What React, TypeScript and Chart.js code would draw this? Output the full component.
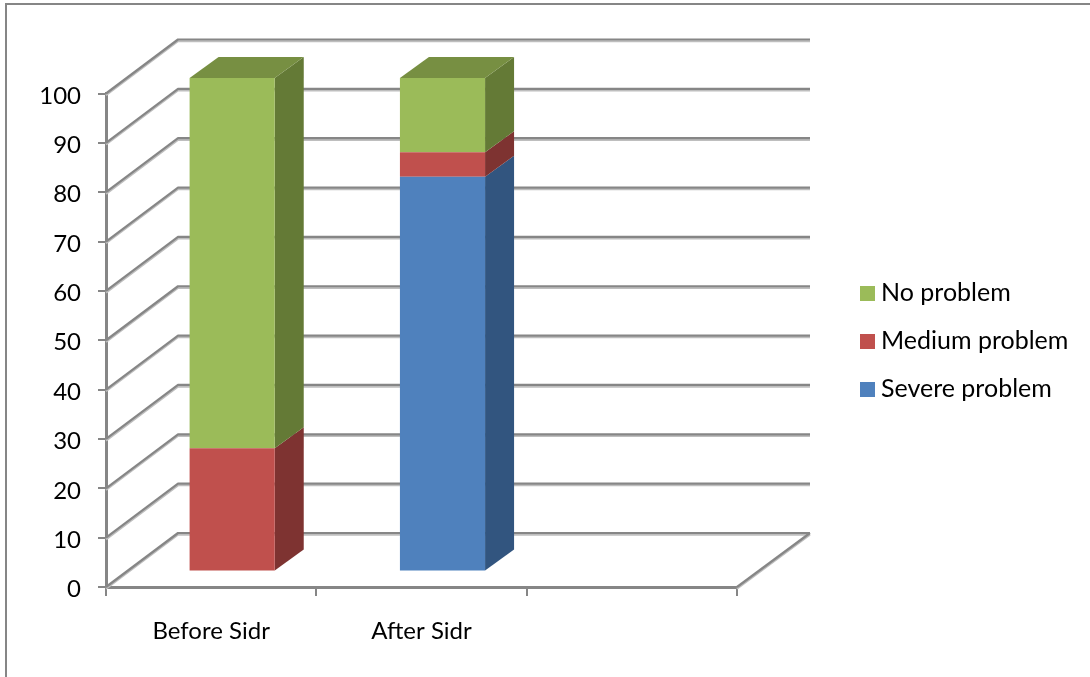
import React, { useEffect, useRef } from "react";
import { Chart, registerables } from "chart.js";

Chart.register(...registerables);

const categories = ["Before Sidr", "After Sidr", ""];
const severeProblem = [0, 80, null];
const mediumProblem = [25, 5, null];
const noProblem = [75, 15, null];

const FONT = "Lato";
const AXIS = "#868686";
const AXIS_LIGHT = "#BEBEBE";
const CHART_HEIGHT = 677;

// Projection of the box: wall offset, and where the bars sit on the floor.
const WALL = { dx: 72, dy: -54 };
const BAR_SHIFT = { dx: 21, dy: -15.4 };
const BAR_DEPTH = { dx: 29, dy: -21 };
const PLOT = { left: 106, right: 737, top: 93.5, bottom: 587 };

// Legend column: first row's swatch top, row pitch, swatch size, text start.
const LEGEND = { x: 860, y: 286, pitch: 48, box: 15, textX: 881 };

// Lato sits a little high on its middle baseline; value labels are nudged down.
const VALUE_LABEL_NUDGE = 2.5;

const twoTone = (ctx: CanvasRenderingContext2D, pts: number[][]) => {
  const run = (off: number, color: string, w: number) => {
    ctx.beginPath();
    pts.forEach(([x, y], i) => (i ? ctx.lineTo(x, y + off) : ctx.moveTo(x, y + off)));
    ctx.strokeStyle = color;
    ctx.lineWidth = w;
    ctx.stroke();
  };
  run(1.7, AXIS_LIGHT, 2);
  run(0, AXIS, 2.2);
};

const poly = (ctx: CanvasRenderingContext2D, pts: number[][], color: string) => {
  ctx.beginPath();
  pts.forEach(([x, y], i) => (i ? ctx.lineTo(x, y) : ctx.moveTo(x, y)));
  ctx.closePath();
  ctx.fillStyle = color;
  ctx.fill();
};

const boxPlugin = {
  id: "box3d",
  afterLayout(chart: any) {
    const y = chart.scales.y;
    if (y.nudged) return;
    const drawLabels = y.drawLabels;
    y.drawLabels = function (area: any) {
      this.ctx.save();
      this.ctx.translate(0, VALUE_LABEL_NUDGE);
      drawLabels.call(this, area);
      this.ctx.restore();
    };
    y.nudged = true;
  },
  beforeDraw(chart: any) {
    const { ctx, width, height } = chart;
    ctx.save();
    ctx.fillStyle = "#fff";
    ctx.fillRect(0, 0, width, height);
    // outer frame of the chart object
    ctx.strokeStyle = AXIS;
    ctx.lineWidth = 2;
    ctx.beginPath();
    ctx.moveTo(6, height);
    ctx.lineTo(6, 4);
    ctx.lineTo(width, 4);
    ctx.stroke();
    ctx.restore();
  },
  beforeDatasetsDraw(chart: any) {
    const { ctx, scales } = chart;
    const y = scales.y;
    const left = chart.chartArea.left;
    const right = chart.chartArea.right;
    ctx.save();
    ctx.lineJoin = "round";
    // wall gridlines with their diagonal run back from the value axis
    y.ticks.forEach((t: any) => {
      const py = y.getPixelForValue(t.value);
      twoTone(ctx, [
        [left, py],
        [left + WALL.dx, py + WALL.dy],
        [right + WALL.dx + 1, py + WALL.dy],
      ]);
    });
    const base = y.getPixelForValue(0);
    twoTone(ctx, [
      [right, base],
      [right + WALL.dx + 1, base + WALL.dy],
    ]);
    ctx.restore();

    // bars are pushed back onto the floor; restored in afterDatasetsDraw
    ctx.save();
    ctx.translate(BAR_SHIFT.dx, BAR_SHIFT.dy);
    const last = chart.data.datasets.length - 1;
    chart.data.datasets.forEach((ds: any, i: number) => {
      chart.getDatasetMeta(i).data.forEach((bar: any, k: number) => {
        if (!ds.data[k]) return;
        const l = bar.x - bar.width / 2;
        const r = bar.x + bar.width / 2;
        const { dx, dy } = BAR_DEPTH;
        poly(ctx, [[r, bar.base], [r + dx, bar.base + dy], [r + dx, bar.y + dy], [r, bar.y]], ds.sideColor);
        if (i === last) {
          poly(ctx, [[l, bar.y], [l + dx, bar.y + dy], [r + dx, bar.y + dy], [r, bar.y]], ds.topColor);
        }
      });
    });
  },
  afterDatasetsDraw(chart: any) {
    chart.ctx.restore();
  },
  afterDraw(chart: any) {
    // legend, top of the stack first, text set on the swatch's bottom edge
    const { ctx } = chart;
    ctx.save();
    ctx.font = `25px ${FONT}`;
    ctx.textBaseline = "alphabetic";
    ctx.textAlign = "left";
    [...chart.data.datasets].reverse().forEach((ds: any, i: number) => {
      const top = LEGEND.y + i * LEGEND.pitch;
      ctx.fillStyle = ds.backgroundColor;
      ctx.fillRect(LEGEND.x, top, LEGEND.box, LEGEND.box);
      ctx.fillStyle = "#000";
      ctx.fillText(ds.label, LEGEND.textX, top + LEGEND.box);
    });
    ctx.restore();
  },
};

export default function App() {
  const ref = useRef<HTMLCanvasElement>(null);
  useEffect(() => {
    const chart = new Chart(ref.current!, {
      type: "bar",
      data: {
        labels: categories,
        datasets: [
          { label: "Severe problem", data: severeProblem, backgroundColor: "#4F81BD", sideColor: "#32557F" },
          { label: "Medium problem", data: mediumProblem, backgroundColor: "#C0504D", sideColor: "#7E3331" },
          { label: "No problem", data: noProblem, backgroundColor: "#9BBB59", sideColor: "#647A36", topColor: "#778F42" },
        ] as any,
      },
      options: {
        animation: false,
        responsive: false,
        layout: { padding: { top: PLOT.top, left: 0, right: 1090 - PLOT.right, bottom: 0 } },
        datasets: { bar: { categoryPercentage: 1, barPercentage: 85 / 210, clip: false } as any },
        plugins: {
          tooltip: { enabled: false },
          legend: { display: false },
        },
        scales: {
          x: {
            stacked: true,
            grid: { drawOnChartArea: false, tickLength: 9, color: AXIS, lineWidth: 2 },
            border: { color: AXIS, width: 3 },
            ticks: { color: "#000", padding: 21, maxRotation: 0, font: { family: FONT, size: 24 } },
            afterFit: (s: any) => { s.height = CHART_HEIGHT - PLOT.bottom; },
          },
          y: {
            stacked: true,
            min: 0,
            max: 100,
            grid: { drawOnChartArea: false, tickLength: 8, color: AXIS, lineWidth: 2 },
            border: { color: AXIS, width: 3 },
            ticks: { stepSize: 10, color: "#000", padding: 17, font: { family: FONT, size: 24 } },
            afterFit: (s: any) => { s.width = PLOT.left; },
          },
        },
      } as any,
      plugins: [boxPlugin],
    });
    return () => chart.destroy();
  }, []);
  return (
    <canvas
      ref={ref}
      width={1090}
      height={CHART_HEIGHT}
      style={{ position: "absolute", left: 0, top: 0, display: "block" }}
    />
  );
}
